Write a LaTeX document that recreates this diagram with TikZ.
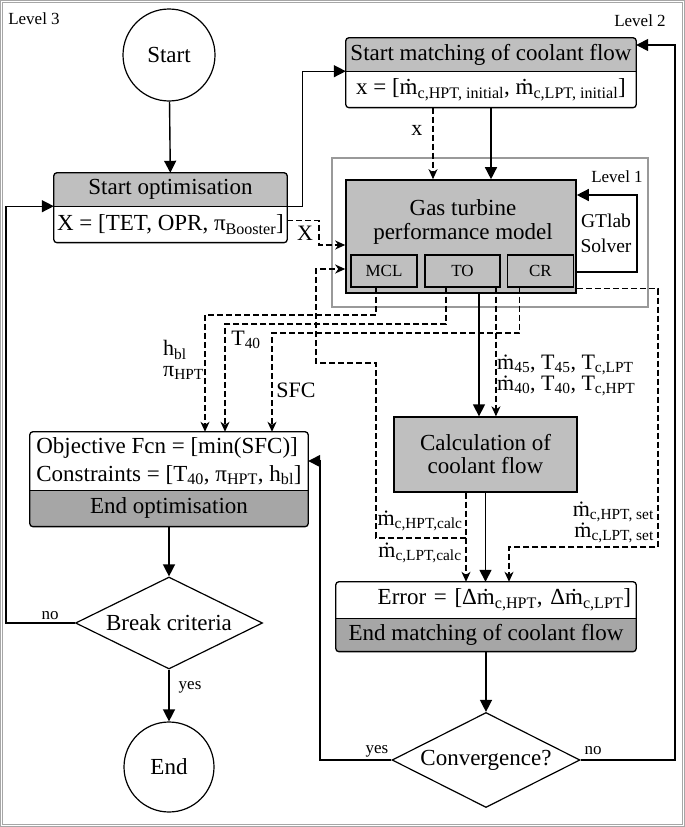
\documentclass[tikz,border=0pt]{standalone}
\usepackage{fontspec}
\setmainfont{Liberation Serif}
\usetikzlibrary{positioning,shapes.geometric,arrows.meta}

\newcommand{\sub}[1]{\textsubscript{#1}}
\newcommand{\md}{\.{m}}

\begin{document}
\begin{tikzpicture}[x=1pt,y=-1pt,
    font=\fontsize{23}{27}\selectfont,
    flow/.style={-{Triangle[length=12pt,width=12pt]},line width=1.4pt},
    dflow/.style={-{Stealth[length=10pt,width=9pt,inset=3pt]},line width=1.3pt,dash pattern=on 6pt off 3pt},
    frame/.style={draw=black!35,line width=0.8pt,double=white,double distance=1.2pt},
    hdr/.style={fill=black!25,inner sep=0pt},
    body/.style={fill=white,inner sep=0pt},
    foot/.style={fill=black!35,inner sep=0pt},
    outline/.style={line width=1.3pt,rounded corners=3pt},
    term/.style={draw,circle,line width=1.2pt,inner sep=0pt},
    dec/.style={draw,diamond,line width=1.2pt,inner sep=0pt,aspect=2},
    gtbox/.style={draw,fill=black!25,line width=1.6pt,inner sep=0pt},
    part/.style={draw,fill=black!25,line width=1.4pt,inner sep=0pt,minimum height=32pt,font=\fontsize{17}{20}\selectfont},
    lbl/.style={inner sep=1pt,font=\fontsize{22}{21}\selectfont},
    lblsm/.style={inner sep=1pt,font=\fontsize{17}{20}\selectfont}]

  \useasboundingbox (0,0) rectangle (685,827);

  % levels
  \draw[frame] (1.5,1.5) rectangle (683.5,825.5);
  \draw[frame] (327,6) rectangle (679,816);
  \draw[draw=black!40,line width=1.3pt] (332,158) rectangle (648,307);
  \node[lblsm] (lv3) at (34,19) {Level 3};
  \node[lblsm] (lv2) at (640,21) {Level 2};
  \node[lblsm] (lv1) at (617,177) {Level 1};

  % optimisation (level 3)
  \node[term,minimum size=92pt] (start) at (169,55) {Start};
  \node[hdr,minimum width=233pt,minimum height=33pt] (opt) at (170.5,189.5) {Start optimisation};
  \node[body,minimum width=233pt,minimum height=36pt,below=0pt of opt] (optx) {X = [TET, OPR, π\sub{Booster}]};
  \draw[outline] (opt.north west) rectangle (optx.south east);
  \draw[line width=1.3pt] (opt.south west) -- (opt.south east);

  \node[body,align=left,minimum width=278pt,minimum height=58pt,font=\fontsize{23}{28}\selectfont] (obj) at (169,461)
    {Objective Fcn = [min(SFC)]\\Constraints = [T\sub{40}, π\sub{HPT}, h\sub{bl}]};
  \node[foot,minimum width=278pt,minimum height=36pt,below=0pt of obj] (objend) {End optimisation};
  \draw[outline] (obj.north west) rectangle (objend.south east);
  \draw[line width=1.3pt] (objend.north west) -- (objend.north east);

  \node[dec,minimum width=187pt,minimum height=92pt] (brk) at (169,623) {Break criteria};
  \node[term,minimum size=90pt] (endc) at (169,767) {End};

  % coolant matching (level 2)
  \node[hdr,minimum width=290pt,minimum height=33pt] (match) at (491,54.5) {Start matching of coolant flow};
  \node[body,minimum width=290pt,minimum height=36pt,below=0pt of match] (matchx)
    {x = [\md\sub{c,HPT, initial}, \md\sub{c,LPT, initial}]};
  \draw[outline] (match.north west) rectangle (matchx.south east);
  \draw[line width=1.3pt] (match.south west) -- (match.south east);

  % performance model (level 1)
  \node[gtbox,minimum width=230pt,minimum height=113pt] (gt) at (461,236.5) {};
  \node[align=center,font=\fontsize{23}{24}\selectfont] (gtname) at (463,222) {Gas turbine\\performance model};
  \node[part,line width=2.5pt,minimum width=66pt] (mcl) at (384,271) {MCL};
  \node[part,minimum width=75pt,right=6pt of mcl] (to) {TO};
  \node[part,minimum width=66pt,right=6pt of to] (cr) {CR};
  \node[align=center,font=\fontsize{19.5}{25}\selectfont] (slv) at (606,233) {GTlab\\Solver};

  \node[gtbox,line width=1.3pt,minimum width=183pt,minimum height=75pt,align=center,
    font=\fontsize{23}{23}\selectfont] (calc) at (485.5,454.5) {Calculation of\\coolant flow};

  \node[body,text width=290pt,align=right,inner xsep=5pt,minimum height=36pt] (err) at (486,600)
    {Error = [Δ\md\sub{c,HPT}, Δ\md\sub{c,LPT}]};
  \node[foot,minimum width=300pt,minimum height=33pt,below=0pt of err] (errend) {End matching of coolant flow};
  \draw[outline] (err.north west) rectangle (errend.south east);
  \draw[line width=1.3pt] (errend.north west) -- (errend.north east);

  \node[dec,minimum width=188pt,minimum height=95pt] (conv) at (486,760) {Convergence?};

  % level 3 flow
  \draw[flow] (start) -- (opt);
  \draw[flow] (objend) -- (brk);
  \draw[flow] (brk) -- node[lblsm,right=8pt,pos=0.35] {yes} (endc);
  \draw[flow] (brk.west) -- node[lblsm,above=2pt,pos=0.36] {no} ++(-69,0) |- (opt.south west);
  \draw[flow] (opt.south east) -- ++(15,0) |- (match.south west);
  \draw[dflow] ([yshift=4pt]optx.east) -| (319,245) -- (gt.west |- 0,245);
  \node[lbl] (lblx) at (305,233) {X};

  % level 2 flow
  \draw[dflow] ([xshift=-58pt]matchx.south) -- node[lbl,left=9pt,pos=0.32] {x} ([xshift=-58pt]matchx.south |- gt.north);
  \draw[flow] (matchx.south) -- (matchx.south |- gt.north);
  \draw[flow] ([yshift=-35.5pt]gt.east) -| (637,195) -- (gt.east |- 0,195);
  \draw[flow] ([xshift=18pt]gt.south) -- ([xshift=18pt]gt.south |- calc.north);
  \draw[dflow] ([xshift=33.5pt]to.south) -- ([xshift=33.5pt]to.south |- calc.north);
  \node[lbl,align=left,anchor=west] (lblm) at (496,375)
    {\md\sub{45}, T\sub{45}, T\sub{c,LPT}\\\md\sub{40}, T\sub{40}, T\sub{c,HPT}};

  \draw[flow] (calc.south) -- (calc.south |- err.north);
  \draw[dflow] ([xshift=-19.5pt]calc.south) -- ([xshift=-19.5pt]calc.south |- err.north);
  \coordinate (hpc) at (466,538);
  \draw[dflow] (hpc) -| (376,363) -| (316,269) -- (gt.west |- 0,269);
  \node[lbl] (lblhc) at (420,521) {\md\sub{c,HPT,calc}};
  \node[lbl] (lbllc) at (420,553) {\md\sub{c,LPT,calc}};

  \draw[dflow] ([yshift=5pt]gt.south east) -| (658,547) -| ([xshift=23pt]err.north);
  \node[lbl,align=right,anchor=east] (lblset) at (655,522)
    {\md\sub{c,HPT, set}\\\md\sub{c,LPT, set}};

  % outputs to optimiser
  \draw[dflow] ([xshift=-8pt]mcl.south) |- (205,315) -- (obj.north -| 205,0);
  \draw[dflow] ([xshift=-16.5pt]to.south) |- (225,324) -- (obj.north -| 225,0);
  \draw[dflow] ([xshift=-21pt]cr.south) |- (272,333) -- (obj.north -| 272,0);
  \node[lbl,align=left,anchor=west] (lblh) at (162,360) {h\sub{bl}\\π\sub{HPT}};
  \node[lbl] (lblt) at (246,340) {T\sub{40}};
  \node[lbl] (lblsfc) at (296,390) {SFC};

  % convergence check
  \draw[flow] (errend) -- (conv);
  \draw[flow] (conv.east) -| (675,45) -- (match.east |- 0,45);
  \draw[flow] (conv.west) -| (320,461) -- (obj.east);
  \node[lblsm] (lblno) at (593,751) {no};
  \node[lblsm] (lblyes) at (377,751) {yes};
\end{tikzpicture}
\end{document}
